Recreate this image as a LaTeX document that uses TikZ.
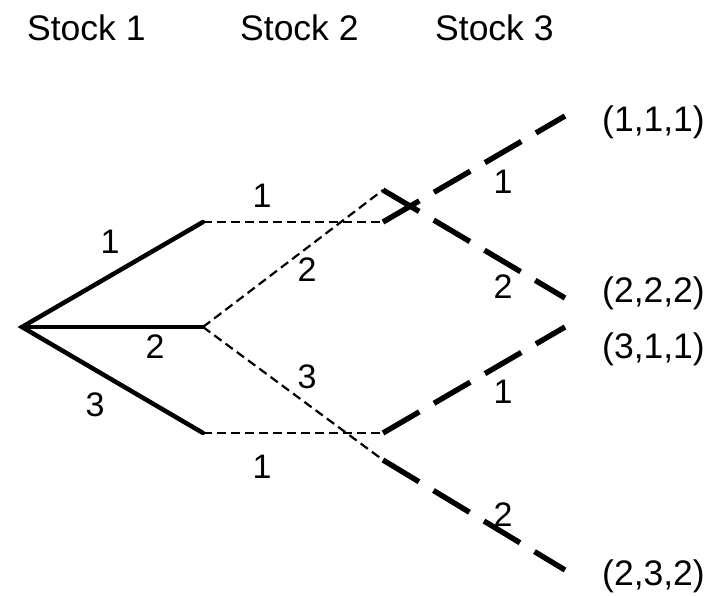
\documentclass[tikz,border=0pt]{standalone}
\usepackage{fontspec}
\setmainfont{Liberation Sans}
\begin{document}
\begin{tikzpicture}[x=1pt,y=-1pt,
  txt/.style={inner sep=0pt,font=\fontsize{35.5}{40}\selectfont},
  lbl/.style={inner sep=0pt,font=\fontsize{34}{40}\selectfont},
  solidedge/.style={line width=4.5pt,line cap=round},
  thinedge/.style={line width=2.2pt,dash pattern=on 9pt off 5pt},
  longedge/.style={line width=5.4pt,dash pattern=on 42pt off 17pt}]
\useasboundingbox (0,0) rectangle (719,596);
% headers
\node[txt,anchor=base west] (h1) at (27,41) {Stock 1};
\node[txt,anchor=base west] (h2) at (240,41) {Stock 2};
\node[txt,anchor=base west] (h3) at (435,41) {Stock 3};
% tree points
\coordinate (r) at (22,327);
\coordinate (a1) at (203,222);
\coordinate (a2) at (203,327);
\coordinate (a3) at (203,433);
\coordinate (b1) at (383,222);
\coordinate (b2) at (383,190);
\coordinate (b3) at (383,460);
\coordinate (b4) at (383,433);
\coordinate (c1) at (565,116);
\coordinate (c2) at (565,298);
\coordinate (c3) at (565,327);
\coordinate (c4) at (565,570);
% stage 1
\draw[solidedge] (a1) -- (r) -- (a3);
\draw[solidedge] (r) -- (a2);
% stage 2
\draw[thinedge] (a1) -- (b1);
\draw[thinedge] (a2) -- (b2);
\draw[thinedge] (a2) -- (b3);
\draw[thinedge] (a3) -- (b4);
% stage 3
\draw[longedge] (b1) -- (c1);
\draw[longedge] (b2) -- (c2);
\draw[longedge] (b4) -- (c3);
\draw[longedge] (b3) -- (c4);
% edge labels
\node[lbl] (l11) at (110,242) {1};
\node[lbl] (l12) at (155,347) {2};
\node[lbl] (l13) at (95,405) {3};
\node[lbl] (l21) at (262,196) {1};
\node[lbl] (l22) at (307,270) {2};
\node[lbl] (l23) at (307,377) {3};
\node[lbl] (l24) at (262,467) {1};
\node[lbl] (l31) at (503,182) {1};
\node[lbl] (l32) at (503,287) {2};
\node[lbl] (l33) at (503,392) {1};
\node[lbl] (l34) at (503,515) {2};
% outcomes
\node[txt,anchor=base west] (o1) at (602,132) {(1,1,1)};
\node[txt,anchor=base west] (o2) at (602,302) {(2,2,2)};
\node[txt,anchor=base west] (o3) at (602,358) {(3,1,1)};
\node[txt,anchor=base west] (o4) at (602,585) {(2,3,2)};
\end{tikzpicture}
\end{document}
